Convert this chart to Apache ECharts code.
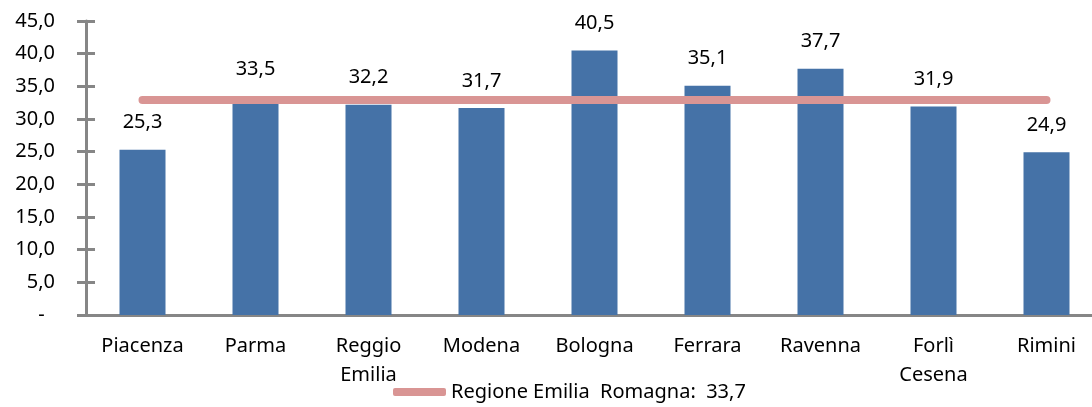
<!DOCTYPE html>
<html>
<head>
<meta charset="utf-8">
<script src="https://cdn.jsdelivr.net/npm/echarts@6/dist/echarts.min.js"></script>
<style>
    html, body { margin: 0; padding: 0; background: #fff; }
    #main { width: 1092px; height: 407px; }
</style>
</head>
<body>
<div id="main"></div>
<script>
'use strict';

// data
var provinces = ['Piacenza', 'Parma', 'Reggio\nEmilia', 'Modena', 'Bologna', 'Ferrara', 'Ravenna', 'Forlì\nCesena', 'Rimini'];
var provinceValues = [25.3, 33.5, 32.2, 31.7, 40.5, 35.1, 37.7, 31.9, 24.9];
// regional line, as drawn in the picture
var regionName = 'Regione Emilia  Romagna:  33,7';
var regionLevel = [32.9, 32.9, 32.9, 32.9, 32.9, 32.9, 32.9, 32.9, 32.9];
var yTicks = { min: 0, max: 45, interval: 5 };

var fontFamily = '"Noto Sans", "Open Sans", sans-serif';
var fontSize = 20;
var axisGray = '#868686';

function fmt(v) {
    if (v === 0) return '-  ';
    return v.toFixed(1).replace('.', ',');
}

var myChart = echarts.init(document.getElementById('main'));
var option = {
    animation: false,
    textStyle: { fontFamily: fontFamily },
    grid: {
        left: 86,
        right: -11,
        top: 21,
        bottom: 92,
        containLabel: false,
        outerBoundsMode: 'none'
    },
    legend: {
        data: [regionName],
        bottom: 0,
        left: 388,
        icon: 'roundRect',
        itemWidth: 53,
        itemHeight: 8,
        textStyle: { fontSize: fontSize, color: '#000', fontFamily: fontFamily }
    },
    xAxis: [{
        type: 'category',
        data: provinces,
        axisLine: { lineStyle: { color: axisGray, width: 3 } },
        axisTick: { show: false },
        axisLabel: {
            color: '#000',
            fontSize: fontSize,
            lineHeight: 29,
            margin: 17,
            interval: 0
        }
    }],
    yAxis: [{
        type: 'value',
        min: yTicks.min,
        max: yTicks.max,
        interval: yTicks.interval,
        axisLine: { show: true, lineStyle: { color: axisGray, width: 3 } },
        axisTick: { show: true, length: 9, lineStyle: { color: axisGray, width: 3 } },
        splitLine: { show: false },
        axisLabel: {
            color: '#000',
            fontSize: fontSize,
            margin: 31,
            formatter: fmt
        }
    }, {
        // second axis only to draw the inner half of the crossing ticks
        type: 'value',
        position: 'left',
        min: yTicks.min,
        max: yTicks.max,
        interval: yTicks.interval,
        axisLine: { show: false },
        axisTick: { show: true, inside: true, length: 9, lineStyle: { color: axisGray, width: 3 } },
        splitLine: { show: false },
        axisLabel: { show: false }
    }],
    series: [{
        name: 'Province',
        type: 'bar',
        data: provinceValues,
        barWidth: 46,
        itemStyle: { color: '#4572A7' },
        label: {
            show: true,
            position: 'top',
            distance: 17,
            color: '#000',
            fontSize: fontSize,
            formatter: function(p) { return fmt(p.value); }
        },
        z: 2
    }, {
        name: regionName,
        type: 'line',
        data: regionLevel,
        symbol: 'none',
        color: '#D99594',
        lineStyle: { color: '#D99594', width: 8, cap: 'round' },
        z: 3
    }]
};
myChart.setOption(option);
</script>
</body>
</html>
